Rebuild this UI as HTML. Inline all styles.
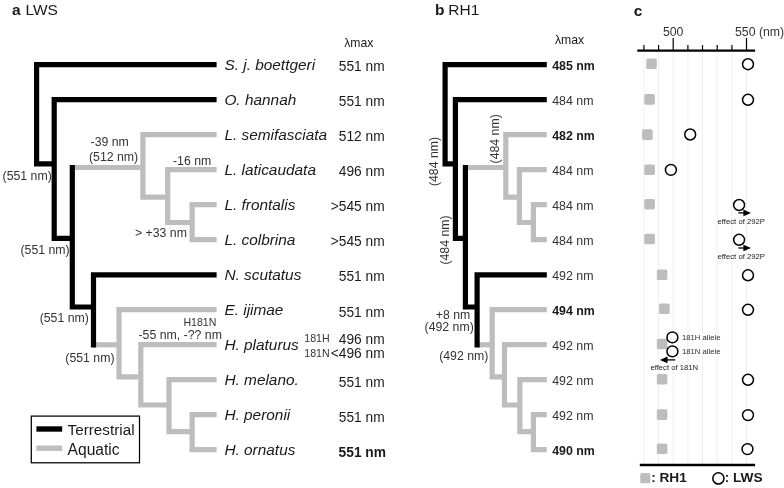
<!DOCTYPE html>
<html><head><meta charset="utf-8"><title>Figure</title>
<style>
html,body{margin:0;padding:0;background:#fff;}
svg{display:block;}
text{font-family:"Liberation Sans",sans-serif;fill:#1a1a1a;}
.it{font-style:italic;}
.g{fill:#333;}
.g3{fill:#222;}
.g2{fill:#2e2e2e;}
</style></head><body>
<svg width="784" height="488" viewBox="0 0 784 488">
<rect width="784" height="488" fill="#fff"/>
<line x1="72.3" y1="167.5" x2="142.9" y2="167.5" stroke="#bdbdbd" stroke-width="5.2"/>
<polyline points="216.6,134.6 142.9,134.6 142.9,197.2 167.7,197.2" fill="none" stroke="#bdbdbd" stroke-width="5.2" stroke-linejoin="miter"/>
<polyline points="216.6,169.6 167.7,169.6 167.7,222.5 192.1,222.5" fill="none" stroke="#bdbdbd" stroke-width="5.2" stroke-linejoin="miter"/>
<polyline points="216.6,204.6 192.1,204.6 192.1,239.6 216.6,239.6" fill="none" stroke="#bdbdbd" stroke-width="5.2" stroke-linejoin="miter"/>
<line x1="93.5" y1="344.8" x2="119.0" y2="344.8" stroke="#bdbdbd" stroke-width="5.2"/>
<polyline points="216.6,309.6 119.0,309.6 119.0,376.8 140.8,376.8" fill="none" stroke="#bdbdbd" stroke-width="5.2" stroke-linejoin="miter"/>
<polyline points="216.6,344.6 140.8,344.6 140.8,405.0 169.0,405.0" fill="none" stroke="#bdbdbd" stroke-width="5.2" stroke-linejoin="miter"/>
<polyline points="216.6,379.6 169.0,379.6 169.0,431.6 192.1,431.6" fill="none" stroke="#bdbdbd" stroke-width="5.2" stroke-linejoin="miter"/>
<polyline points="216.6,414.6 192.1,414.6 192.1,449.6 216.6,449.6" fill="none" stroke="#bdbdbd" stroke-width="5.2" stroke-linejoin="miter"/>
<polyline points="216.6,64.6 36.6,64.6 36.6,163.9 54.2,163.9" fill="none" stroke="#000" stroke-width="5.2" stroke-linejoin="miter"/>
<polyline points="216.6,99.6 54.2,99.6 54.2,238.4 72.3,238.4" fill="none" stroke="#000" stroke-width="5.2" stroke-linejoin="miter"/>
<polyline points="72.3,165.0 72.3,307.0 93.5,307.0" fill="none" stroke="#000" stroke-width="5.2" stroke-linejoin="miter"/>
<polyline points="216.6,274.8 93.5,274.8 93.5,347.4" fill="none" stroke="#000" stroke-width="5.2" stroke-linejoin="miter"/>
<line x1="465.4" y1="167.5" x2="505.8" y2="167.5" stroke="#bdbdbd" stroke-width="5.2"/>
<polyline points="546.8,134.6 505.8,134.6 505.8,197.2 519.4,197.2" fill="none" stroke="#bdbdbd" stroke-width="5.2" stroke-linejoin="miter"/>
<polyline points="546.8,169.6 519.4,169.6 519.4,222.5 533.4,222.5" fill="none" stroke="#bdbdbd" stroke-width="5.2" stroke-linejoin="miter"/>
<polyline points="546.8,204.6 533.4,204.6 533.4,239.6 546.8,239.6" fill="none" stroke="#bdbdbd" stroke-width="5.2" stroke-linejoin="miter"/>
<line x1="477.1" y1="344.8" x2="492.2" y2="344.8" stroke="#bdbdbd" stroke-width="5.2"/>
<polyline points="546.8,309.6 492.2,309.6 492.2,376.8 504.5,376.8" fill="none" stroke="#bdbdbd" stroke-width="5.2" stroke-linejoin="miter"/>
<polyline points="546.8,344.6 504.5,344.6 504.5,405.0 519.9,405.0" fill="none" stroke="#bdbdbd" stroke-width="5.2" stroke-linejoin="miter"/>
<polyline points="546.8,379.6 519.9,379.6 519.9,431.6 533.4,431.6" fill="none" stroke="#bdbdbd" stroke-width="5.2" stroke-linejoin="miter"/>
<polyline points="546.8,414.6 533.4,414.6 533.4,449.6 546.8,449.6" fill="none" stroke="#bdbdbd" stroke-width="5.2" stroke-linejoin="miter"/>
<polyline points="546.8,64.6 445.1,64.6 445.1,163.9 455.4,163.9" fill="none" stroke="#000" stroke-width="5.2" stroke-linejoin="miter"/>
<polyline points="546.8,99.6 455.4,99.6 455.4,238.4 465.4,238.4" fill="none" stroke="#000" stroke-width="5.2" stroke-linejoin="miter"/>
<polyline points="465.4,165.0 465.4,307.0 477.1,307.0" fill="none" stroke="#000" stroke-width="5.2" stroke-linejoin="miter"/>
<polyline points="546.8,274.8 477.1,274.8 477.1,347.4" fill="none" stroke="#000" stroke-width="5.2" stroke-linejoin="miter"/>
<text x="12.0" y="14.6" font-size="15.5" font-weight="bold">a</text><text x="25.5" y="14.6" font-size="15.5">LWS</text>
<text x="435.0" y="14.6" font-size="15.5" font-weight="bold">b</text><text x="448.3" y="14.6" font-size="15.5">RH1</text>
<text x="633.8" y="15.9" font-size="15.5" font-weight="bold">c</text>
<text x="344.2" y="46.6" font-size="12.2">λmax</text>
<text x="555.0" y="43.5" font-size="12.2">λmax</text>
<text x="224.4" y="70.0" font-size="15.4" class="it">S. j. boettgeri</text>
<text x="224.4" y="105.0" font-size="15.4" class="it">O. hannah</text>
<text x="224.4" y="140.0" font-size="15.4" class="it">L. semifasciata</text>
<text x="224.4" y="175.0" font-size="15.4" class="it">L. laticaudata</text>
<text x="224.4" y="210.0" font-size="15.4" class="it">L. frontalis</text>
<text x="224.4" y="245.0" font-size="15.4" class="it">L. colbrina</text>
<text x="224.4" y="280.0" font-size="15.4" class="it">N. scutatus</text>
<text x="224.4" y="315.0" font-size="15.4" class="it">E. ijimae</text>
<text x="224.4" y="350.0" font-size="15.4" class="it">H. platurus</text>
<text x="224.4" y="385.0" font-size="15.4" class="it">H. melano.</text>
<text x="224.4" y="420.0" font-size="15.4" class="it">H. peronii</text>
<text x="224.4" y="455.0" font-size="15.4" class="it">H. ornatus</text>
<text x="384.7" y="70.6" font-size="13.75" text-anchor="end">551 nm</text>
<text x="384.7" y="105.6" font-size="13.75" text-anchor="end">551 nm</text>
<text x="384.7" y="140.6" font-size="13.75" text-anchor="end">512 nm</text>
<text x="384.7" y="175.6" font-size="13.75" text-anchor="end">496 nm</text>
<text x="384.7" y="210.9" font-size="13.75" text-anchor="end">&gt;545 nm</text>
<text x="384.7" y="246.1" font-size="13.75" text-anchor="end">&gt;545 nm</text>
<text x="384.7" y="281.0" font-size="13.75" text-anchor="end">551 nm</text>
<text x="384.7" y="316.6" font-size="13.75" text-anchor="end">551 nm</text>
<text x="384.7" y="386.6" font-size="13.75" text-anchor="end">551 nm</text>
<text x="384.7" y="421.6" font-size="13.75" text-anchor="end">551 nm</text>
<text x="386.0" y="457.2" font-size="13.75" text-anchor="end" font-weight="bold">551 nm</text>
<text x="384.7" y="343.6" font-size="13.75" text-anchor="end">496 nm</text>
<text x="384.7" y="357.9" font-size="13.75" text-anchor="end">&lt;496 nm</text>
<text x="304.3" y="341.6" font-size="10.6" class="g">181H</text>
<text x="304.3" y="356.9" font-size="10.6" class="g">181N</text>
<text x="2.6" y="180.2" font-size="12.3" class="g">(551 nm)</text>
<text x="20.5" y="253.8" font-size="12.3" class="g">(551 nm)</text>
<text x="39.7" y="321.7" font-size="12.3" class="g">(551 nm)</text>
<text x="65.3" y="361.5" font-size="12.3" class="g">(551 nm)</text>
<text x="90.6" y="145.5" font-size="12.3" class="g">-39 nm</text>
<text x="89.0" y="161.0" font-size="12.3" class="g">(512 nm)</text>
<text x="173.0" y="164.5" font-size="12.3" class="g">-16 nm</text>
<text x="135.0" y="237.0" font-size="12.3" class="g">&gt; +33 nm</text>
<text x="183.4" y="325.8" font-size="10.6" class="g">H181N</text>
<text x="138.5" y="338.6" font-size="12.3" class="g">-55 nm, -?? nm</text>
<rect x="31.3" y="416.1" width="108.2" height="46.7" fill="#fff" stroke="#000" stroke-width="1.25"/>
<line x1="36.4" y1="429.0" x2="62.2" y2="429.0" stroke="#000" stroke-width="5.4"/>
<line x1="36.4" y1="448.2" x2="62.2" y2="448.2" stroke="#bdbdbd" stroke-width="5.4"/>
<text x="67.6" y="434.7" font-size="15.25">Terrestrial</text>
<text x="67.6" y="454.8" font-size="15.6">Aquatic</text>
<text x="552.2" y="70.0" font-size="12.35" font-weight="bold">485 nm</text>
<text x="552.2" y="105.0" font-size="12.4" class="g">484 nm</text>
<text x="552.2" y="140.0" font-size="12.35" font-weight="bold">482 nm</text>
<text x="552.2" y="175.0" font-size="12.4" class="g">484 nm</text>
<text x="552.2" y="210.0" font-size="12.4" class="g">484 nm</text>
<text x="552.2" y="245.0" font-size="12.4" class="g">484 nm</text>
<text x="552.2" y="280.0" font-size="12.4" class="g">492 nm</text>
<text x="552.2" y="315.0" font-size="12.35" font-weight="bold">494 nm</text>
<text x="552.2" y="350.0" font-size="12.4" class="g">492 nm</text>
<text x="552.2" y="385.0" font-size="12.4" class="g">492 nm</text>
<text x="552.2" y="420.0" font-size="12.4" class="g">492 nm</text>
<text x="552.2" y="455.0" font-size="12.35" font-weight="bold">490 nm</text>
<text transform="translate(438.4,161.5) rotate(-90)" font-size="12.3" text-anchor="middle" class="g">(484 nm)</text>
<text transform="translate(498.9,138.8) rotate(-90)" font-size="12.3" text-anchor="middle" class="g">(484 nm)</text>
<text transform="translate(448.9,240.0) rotate(-90)" font-size="12.3" text-anchor="middle" class="g">(484 nm)</text>
<text x="435.8" y="318.5" font-size="12.3" class="g">+8 nm</text>
<text x="424.6" y="331.3" font-size="12.3" class="g">(492 nm)</text>
<text x="439.2" y="360.0" font-size="12.3" class="g">(492 nm)</text>
<line x1="643.9" y1="51" x2="643.9" y2="464" stroke="#eeeeee" stroke-width="1"/>
<line x1="658.6" y1="51" x2="658.6" y2="464" stroke="#eeeeee" stroke-width="1"/>
<line x1="673.2" y1="51" x2="673.2" y2="464" stroke="#eeeeee" stroke-width="1"/>
<line x1="687.9" y1="51" x2="687.9" y2="464" stroke="#eeeeee" stroke-width="1"/>
<line x1="702.5" y1="51" x2="702.5" y2="464" stroke="#eeeeee" stroke-width="1"/>
<line x1="717.2" y1="51" x2="717.2" y2="464" stroke="#eeeeee" stroke-width="1"/>
<line x1="731.9" y1="51" x2="731.9" y2="464" stroke="#eeeeee" stroke-width="1"/>
<line x1="746.5" y1="51" x2="746.5" y2="464" stroke="#eeeeee" stroke-width="1"/>
<line x1="643.9" y1="45.1" x2="643.9" y2="50" stroke="#000" stroke-width="1.2"/>
<line x1="658.6" y1="45.1" x2="658.6" y2="50" stroke="#000" stroke-width="1.2"/>
<line x1="673.2" y1="37.9" x2="673.2" y2="50" stroke="#000" stroke-width="1.2"/>
<line x1="687.9" y1="45.1" x2="687.9" y2="50" stroke="#000" stroke-width="1.2"/>
<line x1="702.5" y1="45.1" x2="702.5" y2="50" stroke="#000" stroke-width="1.2"/>
<line x1="717.2" y1="45.1" x2="717.2" y2="50" stroke="#000" stroke-width="1.2"/>
<line x1="731.9" y1="45.1" x2="731.9" y2="50" stroke="#000" stroke-width="1.2"/>
<line x1="746.5" y1="37.9" x2="746.5" y2="50" stroke="#000" stroke-width="1.2"/>
<line x1="637.3" y1="50.6" x2="755.1" y2="50.6" stroke="#000" stroke-width="2.4"/>
<line x1="639.8" y1="465.0" x2="755.1" y2="465.0" stroke="#000" stroke-width="2.4"/>
<text x="673.2" y="35.9" font-size="12.3" text-anchor="middle" class="g">500</text>
<text x="735.0" y="35.9" font-size="12.3" class="g">550 (nm)</text>
<rect x="646.2" y="58.5" width="10.6" height="10.6" rx="1.6" fill="#bdbdbd"/>
<rect x="644.3" y="94.1" width="10.6" height="10.6" rx="1.6" fill="#bdbdbd"/>
<rect x="642.1" y="129.3" width="10.6" height="10.6" rx="1.6" fill="#bdbdbd"/>
<rect x="644.3" y="164.5" width="10.6" height="10.6" rx="1.6" fill="#bdbdbd"/>
<rect x="644.3" y="198.9" width="10.6" height="10.6" rx="1.6" fill="#bdbdbd"/>
<rect x="644.3" y="233.7" width="10.6" height="10.6" rx="1.6" fill="#bdbdbd"/>
<rect x="656.8" y="269.5" width="10.6" height="10.6" rx="1.6" fill="#bdbdbd"/>
<rect x="659.1" y="303.5" width="10.6" height="10.6" rx="1.6" fill="#bdbdbd"/>
<rect x="656.8" y="338.7" width="10.6" height="10.6" rx="1.6" fill="#bdbdbd"/>
<rect x="656.8" y="373.9" width="10.6" height="10.6" rx="1.6" fill="#bdbdbd"/>
<rect x="656.8" y="409.3" width="10.6" height="10.6" rx="1.6" fill="#bdbdbd"/>
<rect x="656.8" y="443.5" width="10.6" height="10.6" rx="1.6" fill="#bdbdbd"/>
<circle cx="748.0" cy="64.2" r="5.45" fill="#fff" stroke="#000" stroke-width="1.5"/>
<circle cx="748.0" cy="99.8" r="5.45" fill="#fff" stroke="#000" stroke-width="1.5"/>
<circle cx="690.2" cy="134.5" r="5.45" fill="#fff" stroke="#000" stroke-width="1.5"/>
<circle cx="670.9" cy="169.9" r="5.45" fill="#fff" stroke="#000" stroke-width="1.5"/>
<circle cx="739.1" cy="205.0" r="5.45" fill="#fff" stroke="#000" stroke-width="1.5"/>
<circle cx="739.1" cy="239.8" r="5.45" fill="#fff" stroke="#000" stroke-width="1.5"/>
<circle cx="748.0" cy="275.3" r="5.45" fill="#fff" stroke="#000" stroke-width="1.5"/>
<circle cx="748.0" cy="309.8" r="5.45" fill="#fff" stroke="#000" stroke-width="1.5"/>
<circle cx="748.0" cy="379.8" r="5.45" fill="#fff" stroke="#000" stroke-width="1.5"/>
<circle cx="748.0" cy="415.1" r="5.45" fill="#fff" stroke="#000" stroke-width="1.5"/>
<circle cx="747.5" cy="449.1" r="5.45" fill="#fff" stroke="#000" stroke-width="1.5"/>
<circle cx="672.4" cy="337.4" r="5.45" fill="#fff" stroke="#000" stroke-width="1.5"/>
<circle cx="672.4" cy="351.4" r="5.45" fill="#fff" stroke="#000" stroke-width="1.5"/>
<line x1="738.3" y1="212.9" x2="747.0" y2="212.9" stroke="#000" stroke-width="1.3"/>
<polygon points="743.4,209.6 751.0,212.9 743.4,216.2" fill="#000"/>
<line x1="738.3" y1="248.0" x2="747.0" y2="248.0" stroke="#000" stroke-width="1.3"/>
<polygon points="743.4,244.7 751.0,248.0 743.4,251.3" fill="#000"/>
<line x1="675.2" y1="359.9" x2="663.9" y2="359.9" stroke="#000" stroke-width="1.3"/>
<polygon points="667.5,356.6 659.9,359.9 667.5,363.2" fill="#000"/>
<text x="717.6" y="223.6" font-size="7.7" class="g3">effect of 292P</text>
<text x="717.6" y="258.7" font-size="7.7" class="g3">effect of 292P</text>
<text x="650.4" y="369.5" font-size="7.7" class="g3">effect of 181N</text>
<text x="682.0" y="339.5" font-size="7.7" class="g2">181H allele</text>
<text x="682.0" y="354.2" font-size="7.7" class="g2">181N allele</text>
<rect x="640.2" y="473.1" width="10.2" height="10.2" rx="1.6" fill="#bdbdbd"/>
<text x="651.3" y="482.2" font-size="13.4" font-weight="bold">:</text>
<text x="659.4" y="482.2" font-size="13.7" font-weight="bold">RH1</text>
<circle cx="718.4" cy="478.4" r="5.6" fill="#fff" stroke="#000" stroke-width="1.5"/>
<text x="724.8" y="482.2" font-size="13.4" font-weight="bold">:</text>
<text x="733.0" y="482.2" font-size="13.7" font-weight="bold">LWS</text>
</svg>
</body></html>
